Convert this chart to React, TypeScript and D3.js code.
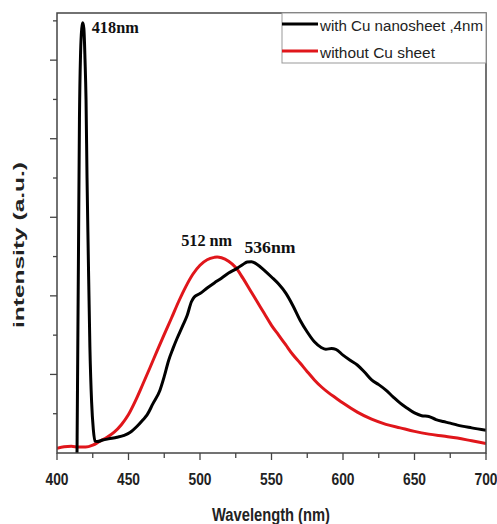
import React from 'react';
import * as d3 from 'd3';

// wavelength (nm), intensity (a.u.)
const withCuWavelength = [414, 414.5, 415, 415.7, 416.5, 417.3, 418, 418.8, 419.6, 420.3, 421, 421.8, 423, 424.2, 425.4, 426.6, 428, 432, 436, 442, 447, 451, 456, 460, 463, 467, 472, 475, 478, 481, 484, 488, 491, 494, 496, 500, 505, 510, 515, 520, 525, 530, 533, 536, 540, 545, 550, 555, 560, 565, 570, 575, 580, 585, 588, 592, 595, 600, 605, 610, 615, 620, 625, 630, 635, 640, 645, 650, 655, 660, 665, 670, 675, 680, 690, 700];
const withCuIntensity = [0, 2.5, 5, 8.5, 10.2, 10.8, 10.95, 10.8, 10, 9, 7, 5.2, 2.7, 1.3, 0.6, 0.3, 0.29, 0.33, 0.36, 0.4, 0.45, 0.52, 0.68, 0.84, 0.97, 1.25, 1.6, 1.95, 2.35, 2.65, 2.92, 3.25, 3.5, 3.85, 3.97, 4.06, 4.2, 4.33, 4.45, 4.58, 4.68, 4.8, 4.86, 4.87, 4.8, 4.65, 4.48, 4.3, 4.07, 3.75, 3.38, 3.08, 2.83, 2.68, 2.64, 2.66, 2.64, 2.49, 2.36, 2.24, 2.06, 1.86, 1.74, 1.6, 1.43, 1.27, 1.14, 1.02, 0.95, 0.93, 0.85, 0.8, 0.76, 0.71, 0.64, 0.58];

const noCuWavelength = [400, 405, 410, 415, 420, 425, 430, 435, 440, 445, 450, 455, 460, 465, 470, 475, 480, 485, 490, 495, 500, 505, 510, 512, 515, 520, 525, 530, 535, 540, 545, 550, 555, 560, 565, 570, 575, 580, 585, 590, 595, 600, 610, 620, 630, 640, 650, 660, 670, 680, 690, 700];
const noCuIntensity = [0.12, 0.16, 0.17, 0.15, 0.15, 0.2, 0.3, 0.4, 0.53, 0.72, 0.98, 1.34, 1.75, 2.17, 2.6, 3.02, 3.43, 3.85, 4.23, 4.55, 4.78, 4.92, 4.98, 4.99, 4.97, 4.88, 4.72, 4.45, 4.15, 3.85, 3.55, 3.25, 3.0, 2.75, 2.5, 2.29, 2.07, 1.86, 1.68, 1.53, 1.4, 1.27, 1.04, 0.86, 0.73, 0.64, 0.55, 0.48, 0.43, 0.38, 0.31, 0.24];

const xTickLabels = [400, 450, 500, 550, 600, 650, 700];
const legendLabels = ['with Cu nanosheet ,4nm', 'without Cu sheet'];
const peakLabels = [
  { text: '418nm', wl: 418, val: 10.95 },
  { text: '512 nm', wl: 512, val: 4.99 },
  { text: '536nm', wl: 536, val: 4.87 },
];

const W = 497;
const H = 524;
const margin = { top: 13, right: 11, bottom: 71, left: 57 };

export default function App() {
  const x = d3.scaleLinear().domain([400, 700]).range([margin.left, W - margin.right]);
  const y = d3.scaleLinear().domain([0, 11.2]).range([H - margin.bottom, margin.top]);

  const line = d3.line<[number, number]>()
    .x(d => x(d[0]))
    .y(d => y(d[1]))
    .curve(d3.curveMonotoneX);

  const black = withCuWavelength.map((w, i) => [w, withCuIntensity[i]] as [number, number]);
  const red = noCuWavelength.map((w, i) => [w, noCuIntensity[i]] as [number, number]);

  const x0 = x(400), x1 = x(700), y0 = y(0), yTop = margin.top;
  const axisColor = '#444';
  const sans = "'Liberation Sans', Arial, sans-serif";

  const xMinor = d3.range(400, 701, 25);
  const yTicks = d3.range(1, 12, 1);

  // label offsets relative to the peaks
  const labelPos = [
    { dx: 9, dy: 10, len: 47 },
    { dx: -36, dy: -11, len: 51 },
    { dx: -7, dy: -9, len: 51 },
  ];

  const legX = 282;
  const legY = yTop;
  const legLen = [163, 115];

  return (
    <svg width={W} height={H} style={{ position: 'absolute', left: 0, top: 0, background: '#fff' }}>
      <clipPath id="plot">
        <rect x={x0} y={yTop} width={x1 - x0} height={y0 - yTop} />
      </clipPath>

      <g clipPath="url(#plot)" fill="none" strokeLinejoin="round">
        <path d={line(red) || ''} stroke="#e0161b" strokeWidth={3} />
        <path d={line(black) || ''} stroke="#000" strokeWidth={3} />
      </g>

      {/* frame */}
      <rect x={x0} y={yTop} width={x1 - x0} height={y0 - yTop} fill="none" stroke={axisColor} strokeWidth={1.5} />

      {/* x ticks */}
      {xMinor.map(v => (
        <line key={'xt' + v} x1={x(v)} x2={x(v)} y1={y0} y2={y0 + (v % 50 === 0 ? 7 : 5)} stroke={axisColor} strokeWidth={1.3} />
      ))}
      {xTickLabels.map(v => (
        <text key={'xl' + v} x={x(v) - 11.5} y={485} textLength={23} lengthAdjust="spacingAndGlyphs" fontFamily={sans} fontWeight="bold" fontSize={16} fill="#222">
          {v}
        </text>
      ))}

      {/* y ticks */}
      {yTicks.map(v => (
        <line key={'yt' + v} x1={x0 - (v % 2 === 0 ? 7 : 4)} x2={x0} y1={y(v)} y2={y(v)} stroke={axisColor} strokeWidth={1.3} />
      ))}

      {/* axis titles */}
      <text x={212} y={521} textLength={118} lengthAdjust="spacingAndGlyphs" fontFamily={sans} fontWeight="bold" fontSize={17.5} fill="#222">
        Wavelength (nm)
      </text>
      <text transform="translate(24,328) rotate(-90)" textLength={166} lengthAdjust="spacingAndGlyphs" fontFamily={sans} fontWeight="bold" fontSize={15} fill="#222">
        intensity (a.u.)
      </text>

      {/* peak annotations */}
      {peakLabels.map((p, i) => (
        <text key={p.text} x={x(p.wl) + labelPos[i].dx} y={y(p.val) + labelPos[i].dy} textLength={labelPos[i].len} lengthAdjust="spacingAndGlyphs" fontFamily="'Liberation Serif', 'Times New Roman', serif" fontWeight="bold" fontSize={16} fill="#111">
          {p.text}
        </text>
      ))}

      {/* legend */}
      <rect x={legX} y={legY} width={x1 - legX} height={50} fill="#fff" stroke="#999" strokeWidth={1} />
      {legendLabels.map((lab, i) => (
        <g key={lab}>
          <line x1={legX} x2={legX + 36} y1={legY + 11 + i * 27} y2={legY + 11 + i * 27} stroke={i === 0 ? '#000' : '#e0161b'} strokeWidth={3} />
          <text x={legX + 38} y={legY + 18 + i * 27} textLength={legLen[i]} lengthAdjust="spacingAndGlyphs" fontFamily={sans} fontSize={15.5} fill="#222">
            {lab}
          </text>
        </g>
      ))}
    </svg>
  );
}
